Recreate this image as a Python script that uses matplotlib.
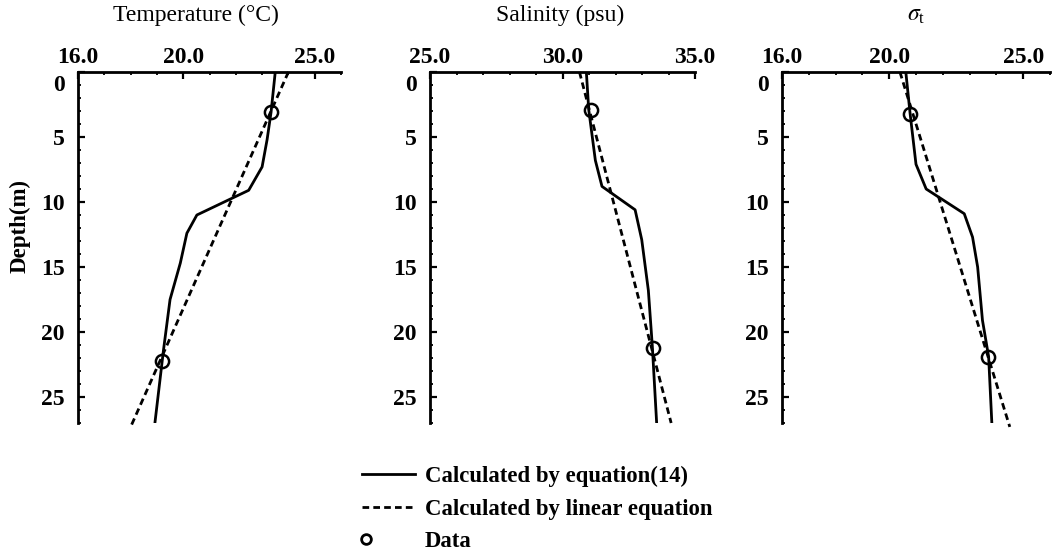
import matplotlib
matplotlib.use("Agg")
import matplotlib.pyplot as plt
from matplotlib.ticker import MultipleLocator, FixedLocator
from matplotlib.transforms import ScaledTranslation
from matplotlib.legend_handler import HandlerLine2DCompound

plt.rcParams['font.family'] = ['Liberation Serif', 'DejaVu Serif']
plt.rcParams['mathtext.fontset'] = 'stix'

# Temperature profile
temp_depth = [0, 3.1, 5.2, 7.3, 9.1, 11.0, 12.4, 14.7, 17.5, 21.4, 26.9]
temp_eq14 = [23.5, 23.34, 23.19, 23.0, 22.49, 20.52, 20.14, 19.89, 19.5, 19.25, 18.93]
temp_lin_depth = [0, 27.4]
temp_lin = [24.0, 17.98]
temp_obs_depth = [3.1, 22.2]
temp_obs = [23.34, 19.19]

# Salinity profile
sal_depth = [0, 2.9, 6.8, 8.8, 10.6, 12.9, 16.8, 21.1, 26.9]
sal_eq14 = [30.9, 30.99, 31.24, 31.49, 32.74, 32.99, 33.24, 33.39, 33.55]
sal_lin_depth = [0, 27.0]
sal_lin = [30.64, 34.1]
sal_obs_depth = [2.9, 21.2]
sal_obs = [31.08, 33.43]

# Sigma-t profile
sig_depth = [0, 3.2, 7.1, 9.0, 10.9, 12.7, 15.0, 19.1, 21.9, 27.0]
sig_eq14 = [20.62, 20.78, 21.0, 21.38, 22.8, 23.11, 23.3, 23.48, 23.71, 23.83]
sig_lin_depth = [0, 27.3]
sig_lin = [20.4, 24.5]
sig_obs_depth = [3.2, 21.9]
sig_obs = [20.78, 23.68]

titles = ['Temperature (\u00b0C)', 'Salinity (psu)', r'$\sigma_\mathregular{t}$']
xticks = [[16.0, 20.0, 25.0], [25.0, 30.0, 35.0], [16.0, 20.0, 25.0]]
xlims = [(16, 26), (25, 35), (16, 26)]
title_x = [0.45, 0.49, 0.5]
legend_labels = ['Calculated by equation(14)', 'Calculated by linear equation', 'Data']
panels = [(temp_depth, temp_eq14, temp_lin_depth, temp_lin, temp_obs_depth, temp_obs),
          (sal_depth, sal_eq14, sal_lin_depth, sal_lin, sal_obs_depth, sal_obs),
          (sig_depth, sig_eq14, sig_lin_depth, sig_lin, sig_obs_depth, sig_obs)]


class LeftMarkerHandler(HandlerLine2DCompound):
    # put the single legend marker near the left end of the handle box, a bit smaller
    def get_xdata(self, legend, xdescent, ydescent, width, height, fontsize):
        xdata, _ = super().get_xdata(legend, xdescent, ydescent, width, height, fontsize)
        return xdata, [-xdescent + 0.08 * width]

    def update_prop(self, legend_handle, orig_handle, legend):
        super().update_prop(legend_handle, orig_handle, legend)
        legend_handle.set_markersize(7)
        legend_handle.set_markeredgewidth(2.0)


W, H = 1052, 553
fig = plt.figure(figsize=[W / 100, H / 100], dpi=100)

# axes boxes in pixels: left, right (top 72, bottom 423)
boxes = [(78, 341), (430, 695), (782, 1050)]
top, bottom = 72, 423

handles = None
for i, (box, p) in enumerate(zip(boxes, panels)):
    ax = fig.add_axes([box[0] / W, (H - bottom) / H, (box[1] - box[0]) / W, (bottom - top) / H])
    d, eq, ld, lv, od, ov = p
    h1, = ax.plot(eq, d, color='black', lw=2.0, solid_joinstyle='round')
    h2, = ax.plot(lv, ld, color='black', lw=2.0, ls=(0, (2.4, 1.5)), clip_on=False)
    h3, = ax.plot(ov, od, ls='none', marker='o', ms=9.5, mfc='none', mec='black', mew=1.8)
    handles = [h1, h2, h3]

    ax.set_xlim(*xlims[i])
    ax.set_ylim(27, 0)
    ax.xaxis.tick_top()
    ax.xaxis.set_major_locator(FixedLocator(xticks[i]))
    ax.xaxis.set_minor_locator(MultipleLocator(1))
    ax.yaxis.set_major_locator(MultipleLocator(5))
    ax.yaxis.set_minor_locator(MultipleLocator(1))
    ax.set_xticklabels([f"{v:.1f}" for v in xticks[i]], fontweight='bold', fontsize=17)
    for lab in ax.get_yticklabels():
        lab.set_fontweight('bold')
        lab.set_fontsize(17)
    ax.tick_params(which='major', direction='in', length=5, width=1.6, pad=3)
    ax.tick_params(axis='y', which='major', pad=9.5)
    ax.tick_params(which='minor', direction='in', length=2.5, width=1.3)

    # push the "0" label down so it clears the top axis labels
    for lab in ax.get_yticklabels():
        if lab.get_position()[1] == 0:
            lab.set_transform(lab.get_transform() + ScaledTranslation(0, -8 / 72, fig.dpi_scale_trans))

    # Clean Graph
    ax.spines["top"].set_visible(True)
    ax.spines["left"].set_visible(True)
    ax.spines["right"].set_visible(False)
    ax.spines["bottom"].set_visible(False)
    ax.spines["top"].set_linewidth(2.0)
    ax.spines["left"].set_linewidth(2.0)
    ax.patch.set_visible(False)

    ax.text(title_x[i], (bottom - 15) / (bottom - top), titles[i], transform=ax.transAxes,
            ha='center', va='center', fontsize=17)

fig.text(20 / W, (H - 226) / H, "Depth(m)", rotation=90, ha='center', va='center',
         fontweight='bold', fontsize=16.5)

leg = fig.legend(handles, legend_labels,
                 loc='upper left', bbox_to_anchor=(362 / W, (H - 466) / H),
                 frameon=False, handlelength=2.32, handletextpad=0.44, labelspacing=0.5,
                 borderpad=0, borderaxespad=0, prop={'weight': 'bold', 'size': 16.4},
                 handler_map={handles[2]: LeftMarkerHandler(numpoints=1)})

plt.savefig('out.png', dpi=100)
